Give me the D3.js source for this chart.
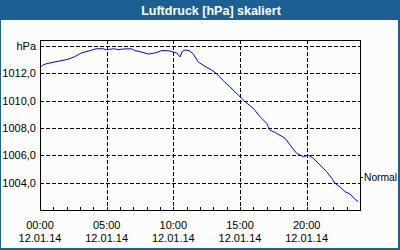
<!DOCTYPE html>
<html><head><meta charset="utf-8">
<script src="https://cdn.jsdelivr.net/npm/d3@7"></script>
<style>
html,body{margin:0;padding:0;background:#fff;}
svg{display:block;}
text{font-family:"Liberation Sans",Arial,sans-serif;}
</style></head>
<body>
<svg id="c" width="400" height="250"></svg>
<script>
const title = "Luftdruck [hPa] skaliert";
const hours = [0,0.23,0.6,1.35,2.1,2.6,3.1,3.73,4.22,4.73,4.97,5.23,5.6,5.85,6.23,6.85,7.13,7.63,8.12,8.63,9.13,9.62,10.0,10.25,10.5,10.67,10.88,11.2,11.5,11.87,12.38,12.88,13.25,13.75,14.2,15.0,15.38,16.0,16.5,17.0,17.25,17.75,18.38,18.75,19.25,19.75,20.12,20.5,21.0,21.5,21.88,22.13,22.5,22.88,23.25,23.63,23.87];
const pressure = [1012.39,1012.63,1012.73,1012.88,1013.03,1013.22,1013.49,1013.66,1013.80,1013.80,1013.73,1013.76,1013.80,1013.73,1013.78,1013.80,1013.66,1013.56,1013.41,1013.49,1013.66,1013.66,1013.56,1013.49,1013.20,1013.61,1013.71,1013.66,1013.41,1012.83,1012.51,1012.24,1011.97,1011.46,1011.05,1010.29,1009.92,1009.44,1008.83,1008.34,1007.85,1007.61,1007.25,1006.76,1006.15,1005.90,1006.02,1005.78,1005.29,1004.80,1004.32,1003.95,1003.70,1003.34,1003.17,1002.78,1002.61];
const yTicks = [1004,1006,1008,1010,1012,1014];
const yTickLabels = ["1004,0","1006,0","1008,0","1010,0","1012,0","hPa"];
const xTicks = [0,5,10,15,20];
const xTimeLabels = ["00:00","05:00","10:00","15:00","20:00"];
const xDateLabels = ["12.01.14","12.01.14","12.01.14","12.01.14","12.01.14"];
const normalValue = 1004.45;
const normalLabel = "Normal";

const svg = d3.select("#c");
const W=400,H=250;
const L=40,R=360,T=40,B=210;
const x = d3.scaleLinear().domain([0,24]).range([L,R]);
const y = d3.scaleLinear().domain([1002,1014.44]).range([B,T]);

// background + frame
svg.append("rect").attr("x",0).attr("y",0).attr("width",W).attr("height",H).attr("fill","#1c5f93");
svg.append("rect").attr("x",1).attr("y",20).attr("width",397).attr("height",228).attr("fill","#fbfdfb");
svg.append("text").attr("x",211).attr("y",15).attr("text-anchor","middle")
  .attr("fill","#fff").attr("font-weight","bold").attr("font-size","12.5px").text(title);

const g = svg.append("g").attr("shape-rendering","crispEdges");
// grid
g.selectAll(".hg").data(yTicks).join("line")
  .attr("x1",L).attr("x2",R).attr("y1",d=>Math.round(y(d))+0.5).attr("y2",d=>Math.round(y(d))+0.5)
  .attr("stroke","#000").attr("stroke-dasharray","4,2");
g.selectAll(".vg").data(xTicks.filter(d=>d>0)).join("line")
  .attr("y1",T).attr("y2",B).attr("x1",d=>Math.round(x(d))+0.5).attr("x2",d=>Math.round(x(d))+0.5)
  .attr("stroke","#000").attr("stroke-dasharray","4,2");
// minor ticks every hour
g.selectAll(".mt").data(d3.range(0,25)).join("line")
  .attr("x1",d=>Math.round(x(d))+0.5).attr("x2",d=>Math.round(x(d))+0.5)
  .attr("y1",B-3).attr("y2",B).attr("stroke","#000");
// frame
g.append("rect").attr("x",L+0.5).attr("y",T+0.5).attr("width",R-L).attr("height",B-T)
  .attr("fill","none").attr("stroke","#000");

// normal tick
g.append("line").attr("x1",R).attr("x2",R+3).attr("y1",Math.round(y(normalValue))+0.5).attr("y2",Math.round(y(normalValue))+0.5).attr("stroke","#000");
svg.append("text").attr("x",R+4).attr("y",y(normalValue)+4).attr("font-size","11px").attr("fill","#000")
  .attr("textLength",33).attr("lengthAdjust","spacingAndGlyphs").text(normalLabel);

// data line
const line = d3.line().x((d,i)=>x(hours[i])).y(d=>y(d));
svg.append("path").datum(pressure).attr("d",line).attr("fill","none")
  .attr("stroke","#0000ff").attr("stroke-width",1);

// y labels
svg.selectAll(".yl").data(yTicks).join("text")
  .attr("x",36).attr("y",d=>y(d)+4).attr("text-anchor","end").attr("font-size","11px").attr("fill","#000")
  .text((d,i)=>yTickLabels[i]);
// x labels
svg.selectAll(".xl").data(xTicks).join("text")
  .attr("x",d=>x(d)).attr("y",229).attr("text-anchor","middle").attr("font-size","11px").attr("fill","#000")
  .text((d,i)=>xTimeLabels[i]);
svg.selectAll(".xd").data(xTicks).join("text")
  .attr("x",d=>x(d)).attr("y",242).attr("text-anchor","middle").attr("font-size","11px").attr("fill","#000")
  .text((d,i)=>xDateLabels[i]);
</script>
</body></html>
